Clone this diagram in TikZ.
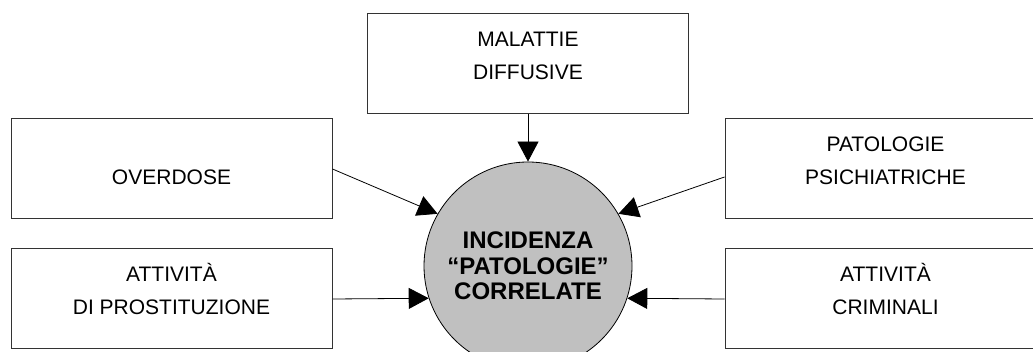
\documentclass[tikz,border=0pt]{standalone}
\usepackage{fontspec}
\setmainfont{Liberation Sans}
\usepackage{tikz}
\usetikzlibrary{arrows.meta, shapes}
\definecolor{circfill}{RGB}{192,192,192}

\begin{document}
\begin{tikzpicture}[x=1pt, y=-1pt,
  box/.style = {shape=rectangle, draw=black!80, line width=1pt,
    minimum width=321pt, minimum height=100pt, inner sep=0pt,
    align=center, font=\fontsize{21}{33}\selectfont,
    text height=48pt, text depth=16pt},
  hub/.style = {shape=circle, draw=black, line width=0.8pt, fill=circfill,
    minimum size=208pt, inner sep=0pt, align=center,
    font=\fontsize{24}{25.5}\selectfont\bfseries},
  feed/.style = {draw=black, line width=0.8pt,
    -{Triangle[length=20pt, width=21pt]}}]
  \useasboundingbox (0,0) rectangle (1033,352);
  \node[hub] (inc) at (528,266) {INCIDENZA\\“PATOLOGIE”\\CORRELATE};
  \node[box] (mal) at (528,64) {MALATTIE\\DIFFUSIVE};
  \node[box] (ovd) at (171.5,169) {OVERDOSE};
  \node[box] (pro) at (171.5,299) {ATTIVITÀ\\DI PROSTITUZIONE};
  \node[box] (psi) at (885.5,169) {PATOLOGIE\\PSICHIATRICHE};
  \node[box] (cri) at (885.5,299) {ATTIVITÀ\\CRIMINALI};
  \draw[feed] (mal.south) -- (inc.north);
  \draw[feed] (ovd.east) -- (inc.150);
  \draw[feed] (pro.east) -- (inc.198);
  \draw[feed] ([yshift=-8pt]psi.west) -- (inc.30);
  \draw[feed] (cri.west) -- (inc.-18);
\end{tikzpicture}
\end{document}
